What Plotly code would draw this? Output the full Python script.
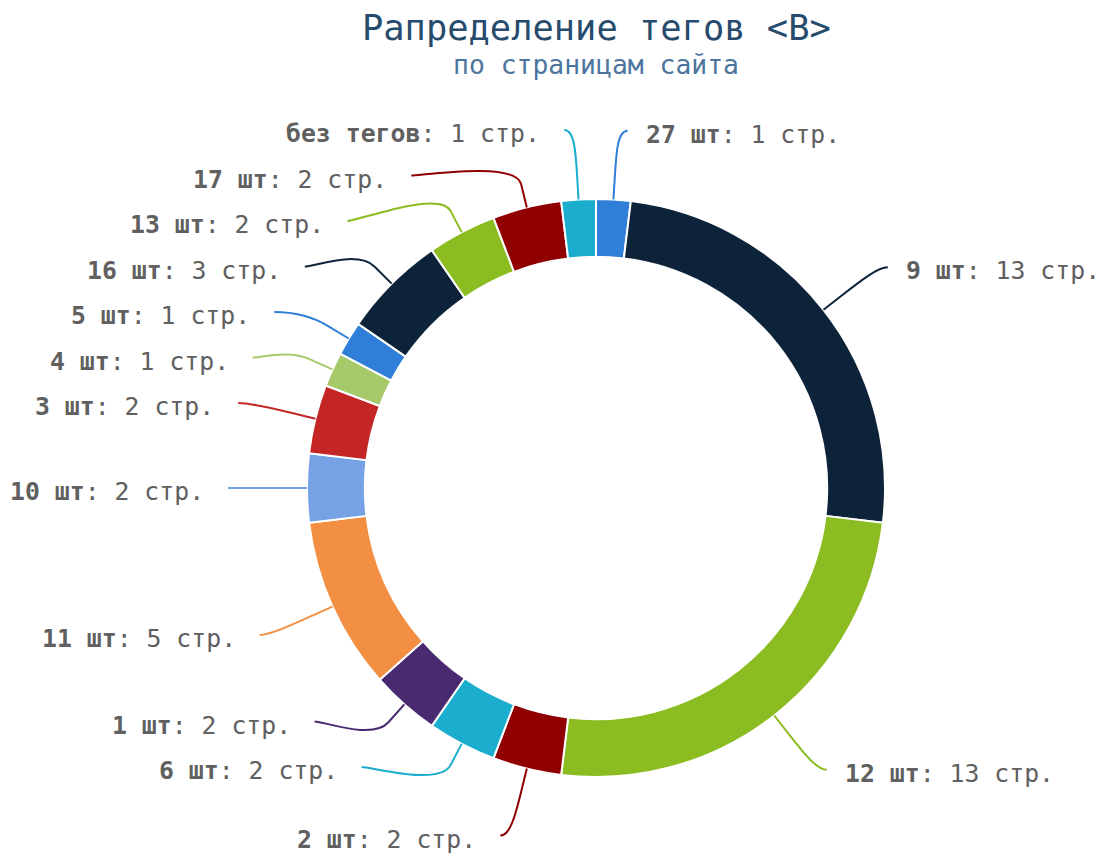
import math
import plotly.graph_objects as go

# ---- data ----
labels = ["27 шт", "9 шт", "12 шт", "2 шт", "6 шт", "1 шт", "11 шт", "10 шт",
          "3 шт", "4 шт", "5 шт", "16 шт", "13 шт", "17 шт", "без тегов"]
pages = [1, 13, 13, 2, 2, 2, 5, 2, 2, 1, 1, 3, 2, 2, 1]
colors = ['#2f7ed8', '#0d233a', '#8bbc21', '#910000', '#1aadce', '#492970',
          '#f28f43', '#77a1e5', '#c42525', '#a6c96a', '#2f7ed8', '#0d233a',
          '#8bbc21', '#910000', '#1aadce']
title_text = "Рапределение тегов &lt;B&gt;"
subtitle_text = "по страницам сайта"

# ---- layout geometry (screen pixels; page body margin removed) ----
OFF = 0
W, H = 1104 - OFF, 854 - OFF
CX, CY = 596, 488
R_OUT = 289
LABEL_R = 358
LABEL_H = 45.5
CONN_OFF = 24
FONT = "DejaVu Sans Mono"


def px(x):
    return (x - OFF) / W


def py(y):
    return 1 - (y - OFF) / H


fig = go.Figure(go.Pie(
    labels=labels, values=pages, sort=False, direction='clockwise', rotation=0,
    hole=0.8, textinfo='none', hoverinfo='label+value', showlegend=False,
    marker=dict(colors=colors, line=dict(color='white', width=2)),
    domain=dict(x=[px(CX - R_OUT), px(CX + R_OUT)],
                y=[py(CY + R_OUT), py(CY - R_OUT)]),
))

total = sum(pages)
pts = []
cum = 0
for i, v in enumerate(pages):
    th = (cum + v / 2) / total * 2 * math.pi
    cum += v
    pts.append(dict(i=i, th=th, left=th > math.pi,
                    ny=CY - LABEL_R * math.cos(th)))


def get_x(y, left):
    r = max(-1.0, min(1.0, (y - CY) / LABEL_R))
    return CX + (-1 if left else 1) * math.cos(math.asin(r)) * LABEL_R


shapes = []
annotations = []
for side_left in (False, True):
    side = [p for p in pts if p['left'] == side_left]
    side.sort(key=lambda p: p['th'], reverse=side_left)
    slots = []
    pos = CY - LABEL_R
    while pos <= CY + LABEL_R:
        slots.append(pos)
        pos += LABEL_H
    n_slots = len(slots)
    n = len(side)
    used = []
    for j, p in enumerate(side):
        best, si = 1e9, 0
        for k in range(n_slots):
            sv = slots[k] if slots[k] is not None else 0
            d = abs(sv - p['ny'])
            if d < best:
                best, si = d, k
        if si < j and slots[j] is not None:
            si = j
        elif n_slots < n - j + si and slots[j] is not None:
            si = n_slots - n + j
            while slots[si] is None:
                si += 1
        else:
            while slots[si] is None:
                si += 1
        used.append((si, slots[si]))
        slots[si] = None
    used.sort(key=lambda s: s[1])
    for j, p in enumerate(side):
        si, y = used[j]
        ny = p['ny']
        nxt = slots[si + 1] if si + 1 < n_slots else 'free'
        prv = slots[si - 1] if si - 1 >= 0 else 'free'
        if (ny > y and nxt is not None) or (ny < y and prv is not None):
            y = min(max(0, ny), 854)
        edge = abs(y - (CY - LABEL_R)) < 1e-6 or abs(y - (CY + LABEL_R)) < 1e-6
        x = get_x(ny if edge else y, side_left)
        sgn = -1 if side_left else 1
        xs = x + sgn * 10
        th = p['th']
        bx, by = CX + R_OUT * math.sin(th), CY - R_OUT * math.cos(th)
        ox = CX + (R_OUT + CONN_OFF) * math.sin(th)
        oy = CY - (R_OUT + CONN_OFF) * math.cos(th)
        c2x = CX + (R_OUT + 2 * CONN_OFF) * math.sin(th)
        c2y = CY - (R_OUT + 2 * CONN_OFF) * math.cos(th)
        path = (f"M {px(xs)} {py(y)} C {px(x)} {py(y)}, {px(c2x)} {py(c2y)}, "
                f"{px(ox)} {py(oy)} L {px(bx)} {py(by)}")
        shapes.append(dict(type='path', xref='paper', yref='paper', path=path,
                           line=dict(color=colors[p['i']], width=2)))
        i = p['i']
        annotations.append(dict(
            xref='paper', yref='paper', showarrow=False,
            x=px(xs + (-22 if side_left else 16)), y=py(y + 3.5),
            xanchor='right' if side_left else 'left', yanchor='middle',
            text=f"<b>{labels[i]}</b>: {pages[i]} стр.",
            font=dict(family=FONT, size=24.8, color='#606060')))

annotations.append(dict(xref='paper', yref='paper', showarrow=False,
                        x=px(CX), y=py(27), xanchor='center', yanchor='middle',
                        borderpad=0,
                        text=title_text,
                        font=dict(family=FONT, size=35.4, color='#274b6d')))
annotations.append(dict(xref='paper', yref='paper', showarrow=False,
                        x=px(CX), y=py(65), xanchor='center', yanchor='middle',
                        text=subtitle_text,
                        font=dict(family=FONT, size=26.4, color='#4d759e')))

fig.update_layout(width=W, height=H, margin=dict(l=0, r=0, t=0, b=0),
                  paper_bgcolor='white', plot_bgcolor='white',
                  shapes=shapes, annotations=annotations)
fig.write_html("out.html", config={'displayModeBar': False},
               post_script="document.body.style.margin='0';"
                           "document.body.style.overflow='hidden';")
